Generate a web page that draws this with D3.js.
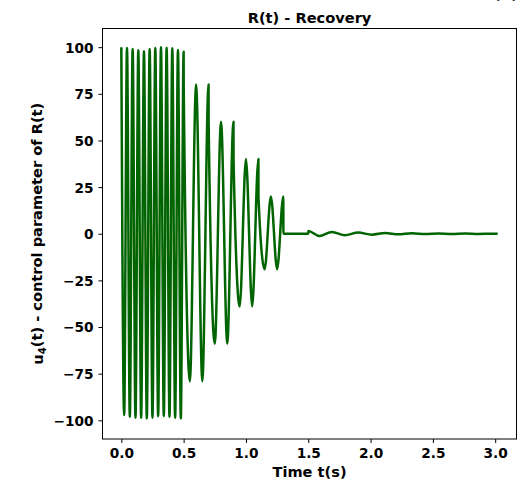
<!DOCTYPE html>
<html>
<head>
<meta charset="utf-8">
<script src="https://cdn.jsdelivr.net/npm/d3@7/dist/d3.min.js"></script>
<style>
  html, body { margin: 0; padding: 0; background: #ffffff; }
  svg { display: block; }
  text { font-family: "DejaVu Sans", sans-serif; font-weight: bold; fill: #000; }
</style>
</head>
<body>
<script>
// ---- data ----
const burstTimes  = [0, 0.0227, 0.0455, 0.0682, 0.0909, 0.1136, 0.1364, 0.1591, 0.1818, 0.2045, 0.2273, 0.25,
                     0.2727, 0.2955, 0.3182, 0.3409, 0.3636, 0.3864, 0.4091, 0.4318, 0.4545, 0.4773, 0.5];
const burstValues = [100, -97.2, 99.6, -98.1, 99.0, -98.6, 98.3, -98.6, 97.8, -99.0, 99.0, -98.6,
                     99.6, -97.8, 100, -97.8, 99.7, -98.1, 99.4, -98.6, 98.5, -99.0, 97.6];

const decayTimes  = [0.5005, 0.55, 0.6, 0.65, 0.7, 0.7005, 0.75, 0.8, 0.85, 0.9, 0.9005, 0.95, 1.0, 1.05, 1.1,
                     1.1005, 1.15, 1.2, 1.25, 1.3, 1.3005];
const decayValues = [80, -79, 80, -79, 80, 60, -59, 60, -59, 60, 40, -39, 40, -39, 40,
                     20, -19, 20, -19, 20, 0];

const tailTimes  = [1.5, 1.5005, 1.59, 1.69, 1.795, 1.9, 2.01, 2.117, 2.224, 2.33, 2.44, 2.545, 2.65, 2.76, 2.865, 2.97, 3.02];
const tailValues = [0, 1.5, -1.2, 1.0, -0.8, 0.65, -0.5, 0.4, -0.3, 0.25, -0.2, 0.15, -0.12, 0.1, -0.08, 0.06, 0];

const xTicks = [0, 0.5, 1.0, 1.5, 2.0, 2.5, 3.0];
const yTicks = [-100, -75, -50, -25, 0, 25, 50, 75, 100];

const titleText = "R(t) - Recovery";
const xLabelText = "Time t(s)";
const panelText = "(b)";

// ---- layout ----
const W = 527, H = 479;
const mLeft = 102.5, mRight = 516.5, mTop = 28.5, mBottom = 439;

const svg = d3.select("body").append("svg")
  .attr("width", W).attr("height", H);

const x = d3.scaleLinear().domain([-0.151, 3.171]).range([mLeft, mRight]);
const y = d3.scaleLinear().domain([-110, 110]).range([mBottom, mTop]);

const series = [];
burstTimes.forEach((t, i) => series.push([t, burstValues[i]]));
decayTimes.forEach((t, i) => series.push([t, decayValues[i]]));
tailTimes.forEach((t, i) => series.push([t, tailValues[i]]));

svg.append("clipPath").attr("id", "plotclip")
  .append("rect").attr("x", mLeft).attr("y", mTop)
  .attr("width", mRight - mLeft).attr("height", mBottom - mTop);

const line = d3.line()
  .x(d => x(d[0]))
  .y(d => y(d[1]))
  .curve(d3.curveMonotoneX);

svg.append("path")
  .datum(series)
  .attr("clip-path", "url(#plotclip)")
  .attr("d", line)
  .attr("fill", "none")
  .attr("stroke", "#006400")
  .attr("stroke-width", 2.5)
  .attr("stroke-linejoin", "round");

// axes
const xAxis = d3.axisBottom(x).tickValues(xTicks).tickFormat(d3.format(".1f"))
  .tickSizeInner(4).tickSizeOuter(0).tickPadding(4);
const yAxis = d3.axisLeft(y).tickValues(yTicks).tickFormat(d3.format("d"))
  .tickSizeInner(4).tickSizeOuter(0).tickPadding(5);

const gx = svg.append("g").attr("transform", `translate(0,${mBottom})`).call(xAxis);
const gy = svg.append("g").attr("transform", `translate(${mLeft},0)`).call(yAxis);
[gx, gy].forEach(g => {
  g.select(".domain").remove();
  g.selectAll(".tick line").attr("stroke", "#000").attr("stroke-width", 1);
  g.selectAll(".tick text")
    .style("font-family", "'DejaVu Sans', sans-serif")
    .style("font-weight", "bold")
    .style("font-size", "13.7px")
    .attr("fill", "#000");
});
gx.selectAll(".tick text").attr("dy", null).attr("y", 19.3);
gy.selectAll(".tick text").attr("dy", "0.36em");

// frame
svg.append("rect")
  .attr("x", mLeft).attr("y", mTop)
  .attr("width", mRight - mLeft).attr("height", mBottom - mTop)
  .attr("fill", "none").attr("stroke", "#000").attr("stroke-width", 1);

// title
svg.append("text")
  .attr("x", (mLeft + mRight) / 2).attr("y", 22.5)
  .attr("text-anchor", "middle")
  .style("font-size", "14.6px")
  .text(titleText);

// panel label (mostly cut off at top edge)
svg.append("text")
  .attr("x", 506).attr("y", -1)
  .attr("text-anchor", "middle")
  .style("font-size", "14.6px")
  .text(panelText);

// x label
svg.append("text")
  .attr("x", (mLeft + mRight) / 2).attr("y", 476.5)
  .attr("text-anchor", "middle")
  .style("font-size", "14.6px")
  .text(xLabelText);

// y label with subscript
const yl = svg.append("text")
  .attr("transform", `translate(43,${(mTop + mBottom) / 2}) rotate(-90)`)
  .attr("text-anchor", "middle")
  .style("font-size", "14.6px");
yl.append("tspan").text("u");
yl.append("tspan").attr("dy", "0.25em").style("font-size", "10.2px").text("4");
yl.append("tspan").attr("dy", "-0.25em").text("(t) - control parameter of R(t)");
</script>
</body>
</html>
